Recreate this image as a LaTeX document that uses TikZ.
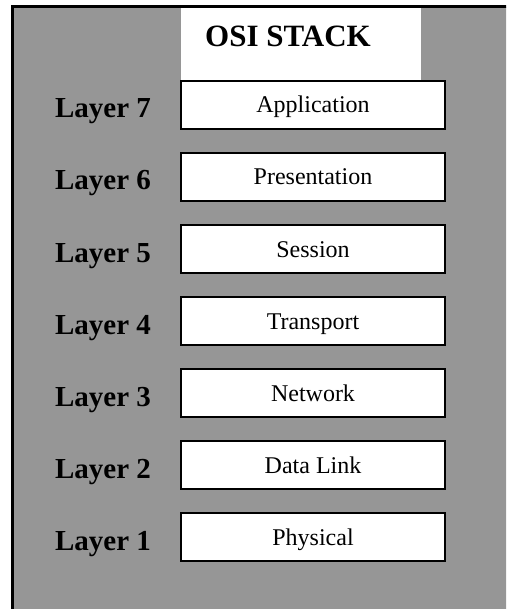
\documentclass[tikz,border=0pt]{standalone}
\usepackage{fontspec}
\setmainfont{Liberation Serif}
\definecolor{bggray}{RGB}{150,150,150}
\tikzset{
  layerbox/.style={draw=black, line width=2pt, fill=white, minimum width=264pt, minimum height=48pt, inner sep=0pt},
  boxtext/.style={font=\fontsize{24}{28}\selectfont, inner sep=0pt, anchor=base},
  layerlabel/.style={font=\fontsize{29}{34}\selectfont\bfseries, inner sep=0pt, anchor=base},
}
\begin{document}
\begin{tikzpicture}[x=1pt,y=-1pt]
\useasboundingbox (0,0) rectangle (506,609);
\clip (0,0) rectangle (506,609);
\path[fill=white] (0,0) rectangle (506,609);
\draw[fill=bggray, line width=3pt] (12,7) rectangle (540,650);
\fill[white] (181,8.5) rectangle (421,81);
\node[font=\fontsize{31}{36}\selectfont\bfseries, inner sep=0pt, anchor=base] (title) at (288,47) {OSI STACK};
\foreach \i/\name in {7/Application,6/Presentation,5/Session,4/Transport,3/Network,2/Data Link,1/Physical}{
  \node[layerbox] (box\i) at (313,{105+72*(7-\i)}) {};
  \node[boxtext] (txt\i) at (313,{113+72*(7-\i)}) {\name};
  \node[layerlabel] (lab\i) at (103,{118+72*(7-\i)}) {Layer \i};
}
\end{tikzpicture}
\end{document}
